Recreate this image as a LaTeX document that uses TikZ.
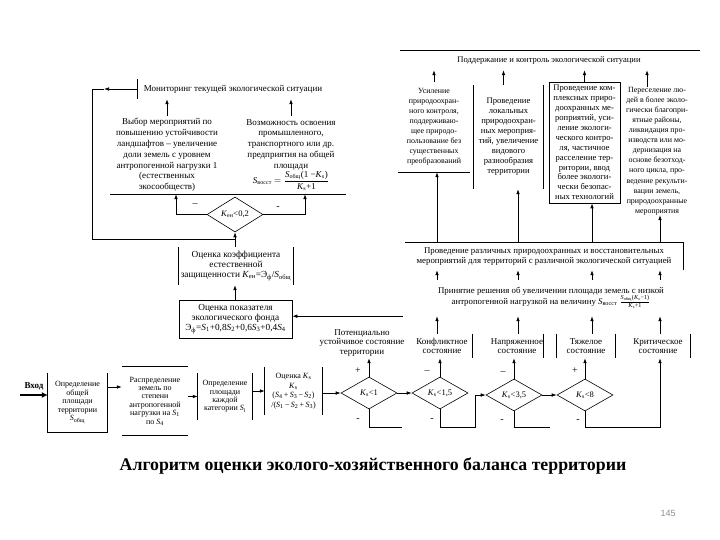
\documentclass[tikz,border=0pt]{standalone}
\usepackage{fontspec}
\usepackage{amsmath}
\setmainfont{Liberation Serif}
\setsansfont{Liberation Sans}
\usetikzlibrary{arrows.meta,shapes.geometric}
\newcommand{\mkS}[1]{\textit{S}\textsubscript{#1}}
\newcommand{\mkK}[1]{\textit{K}\textsubscript{#1}}
\definecolor{pgnum}{RGB}{140,140,150}
\begin{document}
\begin{tikzpicture}[x=1pt,y=-1pt,
  lin/.style={line width=0.7pt},
  arr/.style={line width=0.7pt,-{Latex[length=5pt,width=3.6pt]}},
  bigarr/.style={line width=2pt,-{Latex[length=6pt,width=6pt]}},
  txt/.style={inner sep=0pt,align=center},
  fa/.style={font=\fontsize{7.9}{10}\selectfont},
  fb/.style={font=\fontsize{8.6}{10}\selectfont},
  fc/.style={font=\fontsize{9}{10.8}\selectfont},
  fd/.style={font=\fontsize{9.3}{10}\selectfont},
  fe/.style={font=\fontsize{8}{8.4}\selectfont},
  dia/.style={diamond,draw,line width=0.6pt,inner sep=0pt,font=\fontsize{8.5}{10}\selectfont,minimum width=56pt,minimum height=32pt},
  sg/.style={inner sep=0pt,font=\fontsize{10}{10}\selectfont}]
\useasboundingbox (0,0) rectangle (720,540);

% ---------- top right ----------
\draw[lin] (400,50) -- (700,50);
\node[txt,fb,minimum height=20pt] (ctrl) at (549,60) {Поддержание и контроль экологической ситуации};

\node[txt,fa,minimum width=72pt,minimum height=90pt] (c1) at (434,127) {Усиление\\природоохран-\\ного контроля,\\поддерживаю-\\щее природо-\\пользование без\\существенных\\преобразований};
\draw[lin] (c1.south west) -- (c1.south east);

\node[txt,fb,minimum width=69pt,minimum height=104pt] (c2) at (508.5,137) {Проведение\\локальных\\природоохран-\\ных мероприя-\\тий, увеличение\\видового\\разнообразия\\территории};
\draw[lin] (c2.north west) -- (c2.south west) (c2.north east) -- (c2.south east);

\node[txt,draw,lin,font=\fontsize{8.6}{9.9}\selectfont,minimum width=71pt,minimum height=121pt] (c3) at (584.5,142.5) {Проведение ком-\\плексных приро-\\доохранных ме-\\роприятий, уси-\\ление экологи-\\ческого контро-\\ля, частичное\\расселение тер-\\ритории, ввод\\более экологи-\\чески безопас-\\ных технологий};

\node[txt,font=\fontsize{7.9}{10.1}\selectfont] (c4) at (657,151) {Переселение лю-\\дей в более эколо-\\гически благопри-\\ятные районы,\\ликвидация про-\\изводств или мо-\\дернизация на\\основе безотход-\\ного цикла, про-\\ведение рекульти-\\вации земель,\\природоохранные\\мероприятия};

\coordinate (c2t) at ([xshift=-5pt]c2.north);
\coordinate (c4t) at ([xshift=-10pt]c4.north);
\draw[arr] (c1.north) -- (c1.north |- ctrl.south);
\draw[arr] (c2t) -- (c2t |- ctrl.south);
\draw[arr] (c3.north) -- (c3.north |- ctrl.south);
\draw[arr] (c4t) -- (c4t |- ctrl.south);

\node[txt,font=\fontsize{8.8}{10.5}\selectfont,minimum width=278pt,minimum height=27pt] (rz) at (544,256.5) {Проведение различных природоохранных и восстановительных\\мероприятий для территорий с различной экологической ситуацией};
\draw[lin] (rz.south east) -- (rz.north east) -- (rz.north west);

\coordinate (xA) at (437,0);
\coordinate (xB) at (518,0);
\coordinate (xC) at (592,0);
\coordinate (xD) at (660,0);
\draw[arr] (xA |- rz.north) -- (xA |- c1.south);
\draw[arr] (xB |- rz.north) -- (xB |- c2.south);
\draw[arr] (xC |- rz.north) -- (xC |- c3.south);
\draw[arr] (xD |- rz.north) -- (xD |- c4.south);

\node[txt,font=\fontsize{8.8}{11}\selectfont,minimum width=296pt,minimum height=36pt] (dec) at (551,298) {Принятие решения об увеличении площади земель с низкой\\антропогенной нагрузкой  на величину \mkS{восст}\ \(\frac{\text{\mkS{общ}(\mkK{s}−1)}}{\text{\mkK{s}+1}}\)};
\draw[arr] (xA |- dec.north) -- (xA |- rz.south);
\draw[arr] (xB |- dec.north) -- (xB |- rz.south);
\draw[arr] (xC |- dec.north) -- (xC |- rz.south);
\draw[arr] (xD |- dec.north) -- (xD |- rz.south);

% ---------- states ----------
\node[txt,font=\fontsize{9}{9.6}\selectfont,minimum height=30pt] (st1) at (362,343) {Потенциально\\устойчивое состояние\\территории};
\node[txt,font=\fontsize{9}{9.6}\selectfont,minimum width=60pt,minimum height=24pt] (st2) at (442,346) {Конфликтное\\состояние};
\node[txt,font=\fontsize{9}{9.6}\selectfont,minimum width=52pt,minimum height=24pt] (st3) at (517,346) {Напряженное\\состояние};
\node[txt,font=\fontsize{9}{9.6}\selectfont,minimum width=58pt,minimum height=24pt] (st4) at (586,346) {Тяжелое\\состояние};
\node[txt,font=\fontsize{9}{9.6}\selectfont,minimum width=64pt,minimum height=24pt] (st5) at (658,346) {Критическое\\состояние};
\draw[lin] (st2.north east) -- (st2.south east);
\draw[lin] (st3.north east) -- (st3.south east);
\draw[lin] (st4.north west) -- (st4.south west) (st4.north east) -- (st4.south east);
\draw[lin] (st5.north east) -- (st5.south east);

\draw[arr] (xA |- st2.north) -- (xA |- dec.south);
\draw[arr] (xB |- st3.north) -- (xB |- dec.south);
\draw[arr] (xC |- st4.north) -- (xC |- dec.south);
\draw[arr] (xD |- st5.north) -- (xD |- dec.south);

% ---------- diamonds ----------
\node[dia] (d1) at (369,393) {\mkK{s}<1};
\node[dia] (d2) at (440,393) {\mkK{s}<1,5};
\node[dia] (d3) at (514,395) {\mkK{s}<3,5};
\node[dia] (d4) at (585,395) {\mkK{s}<8};

\draw[arr] (d1.north) -- (d1.north |- st1.south);
\draw[arr] (d2.north) -- (d2.north |- st2.south);
\draw[arr] (d3.north) -- (d3.north |- st3.south);
\draw[arr] (d4.north) -- (d4.north |- st4.south);
\draw[arr] (d1.east) -- (d2.west);
\draw[arr] (d3.east) -- (d4.west);
\coordinate (q1) at (402,427);
\coordinate (q2) at (475,427);
\coordinate (q3) at (550,427);
\coordinate (q4) at (660,427);
\draw[lin] (d1.south) |- (q1);
\draw[arr] (d2.south) |- (q2) |- (d3.west);
\draw[lin] (d3.south) |- (q3);
\draw[arr] (d4.south) |- (q4) -- (q4 |- st5.south);

\node[sg] (s1a) at (358,371) {+};
\node[sg] (s1b) at (358,420) {-};
\node[sg] (s2a) at (427,372) {–};
\node[sg] (s2b) at (432,420) {-};
\node[sg] (s3a) at (503,373) {–};
\node[sg] (s3b) at (502,421) {-};
\node[sg] (s4a) at (575,371) {+};
\node[sg] (s4b) at (578,421) {-};

% ---------- bottom row ----------
\node[txt,font=\fontsize{9}{10}\selectfont\bfseries] (vx) at (34,386) {Вход};
\node[txt,fe,minimum width=59pt,minimum height=59pt] (b1) at (77.5,402.5) {Определение\\общей\\площади\\территории\\\mkS{общ}};
\draw[lin] (b1.north west) -- (b1.south west) -- (b1.south east) -- (b1.north east);
\node[txt,fe,minimum width=66pt,minimum height=68pt] (b2x) at (155,401) {Распределение\\земель по\\степени\\антропогенной\\нагрузки на \mkS{1}\\по \mkS{4}};
\draw[lin] (b2x.north west) -- (b2x.north east) (b2x.south west) -- (b2x.south east);
\node[txt,fe,minimum width=54pt,minimum height=47pt] (b3) at (225,396.5) {Определение\\площади\\каждой\\категории \mkS{i}};
\draw[lin] (b3.north west) -- (b3.south west) (b3.north east) -- (b3.south east);
\node[txt,font=\fontsize{8}{9.5}\selectfont,minimum width=57pt,minimum height=48pt] (ks) at (293.5,391) {Оценка \mkK{s}\\\mkK{s}\\(\mkS{4}\,+\,\mkS{3}\,−\,\mkS{2})\\/(\mkS{1}\,−\,\mkS{2}\,+\,\mkS{3})};
\draw[lin] (ks.north west) -- (ks.south west) (ks.north east) -- (ks.south east);

\coordinate (in0) at (20,395);
\coordinate (r1) at (0,387);
\draw[bigarr] (in0) -- (in0 -| b1.west);
\draw[arr] (b1.east |- r1) -- (b2x.west |- r1);
\draw[arr] (b2x.east |- b3.west) -- (b3.west);
\draw[arr] (b3.east |- ks.west) -- (ks.west);
\draw[arr] (ks.east |- d1.west) -- (d1.west);

% ---------- left column ----------
\node[txt,fc,minimum width=190pt,minimum height=20pt] (mon) at (233,89) {Мониторинг текущей экологической ситуации};
\draw[lin] (mon.north west) -- (mon.south west);

\node[txt,fc,minimum width=114pt,minimum height=78pt] (vyb) at (167,155) {Выбор мероприятий по\\повышению устойчивости\\ландшафтов – увеличение\\доли земель с уровнем\\антропогенной нагрузки 1\\(естественных\\экосообществ)};
\node[txt,fc,minimum width=110pt,minimum height=78pt] (voz) at (291,155) {Возможность освоения\\промышленного,\\транспортного или др.\\предприятия на общей\\площади\\\mkS{восст} \(=\dfrac{\text{\mkS{общ}(1 −\mkK{s})}}{\text{\mkK{s}+1}}\)};
\draw[lin] (vyb.south west) -- (voz.south east);
\draw[arr] (vyb.north) -- (vyb.north |- mon.south);
\draw[arr] (voz.north) -- (voz.north |- mon.south);

\node[dia,minimum height=35pt] (ken) at (235,214.5) {\mkK{ен}<0,2};
\coordinate (xL) at (176,0);
\coordinate (xR) at (305,0);
\draw[arr] (ken.west) -| (xL |- vyb.south);
\draw[arr] (ken.east) -| (xR |- voz.south);
\node[sg] (sgL) at (195,205) {–};
\node[sg] (sgR) at (278,208) {-};

\coordinate (lp1) at (104,89);
\coordinate (lp2) at (92,89);
\coordinate (jn) at (235,239);
\draw[arr] (mon.west) -- (lp1);
\draw[lin] (lp1) -- (lp2) |- (jn);

\node[txt,fd,minimum width=114pt,minimum height=38pt] (kz) at (236,266) {Оценка коэффициента\\естественной\\защищенности \mkK{ен}=Э\textsubscript{ф}/\mkS{общ}};
\draw[lin] (kz.north west) -- (kz.south west) (kz.north east) -- (kz.south east);
\draw[arr] (kz.north -| ken.south) -- (ken.south);

\node[txt,fd,draw,lin,minimum width=113pt,minimum height=38pt] (ef) at (235.5,319) {Оценка показателя\\экологического фонда\\Э\textsubscript{ф}=\mkS{1}+0,8\mkS{2}+0,6\mkS{3}+0,4\mkS{4}};
\draw[arr] (ef.north -| ken.south) -- (kz.south -| ken.south);
\draw[arr] (dec.south west) -- (dec.south west -| ef.east);

% ---------- title ----------
\node[inner sep=0pt,font=\fontsize{17.8}{20}\selectfont\bfseries] (title) at (373,466) {Алгоритм оценки эколого-хозяйственного баланса территории};
\node[inner sep=0pt,font=\sffamily\fontsize{9}{10}\selectfont,text=pgnum] (pg) at (668,513) {145};
\end{tikzpicture}
\end{document}
